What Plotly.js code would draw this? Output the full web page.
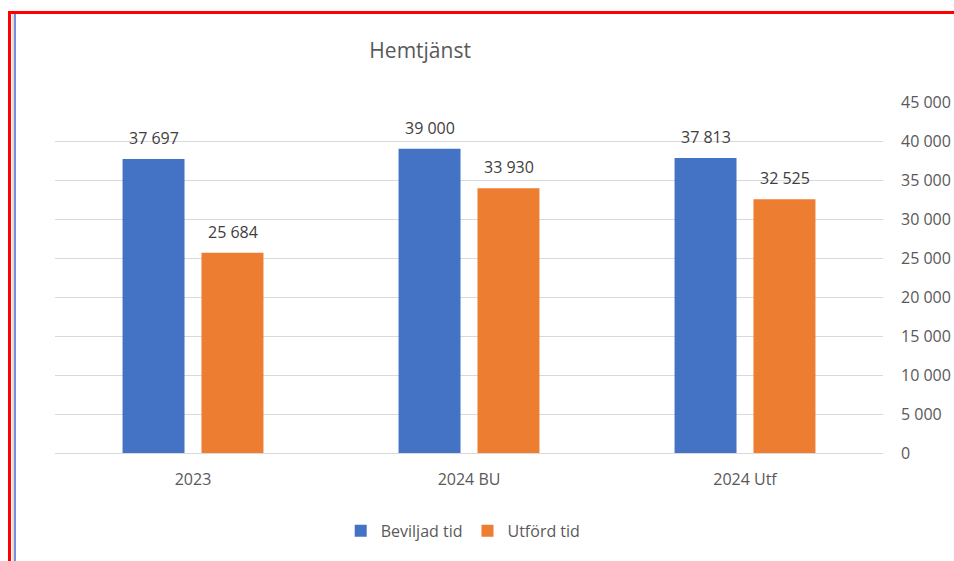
<!DOCTYPE html>
<html>
<head>
<meta charset="utf-8">
<script src="https://cdn.plot.ly/plotly-3.0.1.min.js"></script>
<style>
html,body{margin:0;padding:0;background:#fff;}
#wrap{position:relative;width:954px;height:561px;overflow:hidden;}
#chart{position:absolute;left:0;top:0;width:954px;height:561px;}
.ln{position:absolute;pointer-events:none;}
</style>
</head>
<body>
<div id="wrap">
<div id="chart"></div>
<div class="ln" style="left:8px;top:11px;width:946px;height:3px;background:#ff0000;"></div>
<div class="ln" style="left:8px;top:11px;width:3px;height:550px;background:#ff0000;"></div>
<div class="ln" style="left:12px;top:14px;width:2px;height:547px;background:#f4d8d8;"></div>
<div class="ln" style="left:14px;top:14px;width:2px;height:547px;background:#6f93d6;"></div>
</div>
<script>
const categories = ["2023", "2024 BU", "2024 Utf"];
const beviljad = [37697, 39000, 37813];
const utford = [25684, 33930, 32525];
const seriesNames = ["Beviljad tid", "Utförd tid"];
const tickVals = [0, 5000, 10000, 15000, 20000, 25000, 30000, 35000, 40000, 45000];
const tickText = ["0", "5 000", "10 000", "15 000", "20 000", "25 000", "30 000", "35 000", "40 000", "45 000"];

function fmt(v){ return String(v).replace(/\B(?=(\d{3})+(?!\d))/g, " "); }

const fam = "Open Sans, Noto Sans, sans-serif";
const font = {family: fam, color: "#595959", size: 16};
const labelFont = {family: fam, color: "#404040", size: 16};

const traces = [
  {type: "bar", name: seriesNames[0], x: categories, y: beviljad, marker: {color: "#4472C4"}, hoverinfo: "none"},
  {type: "bar", name: seriesNames[1], x: categories, y: utford, marker: {color: "#ED7D31"}, hoverinfo: "none"}
];

const annotations = [];
[[beviljad, -39.5], [utford, 39.5]].forEach(([vals, dx]) => {
  vals.forEach((v, i) => {
    annotations.push({x: i, y: v, xref: "x", yref: "y", text: fmt(v), showarrow: false,
      xshift: dx, yshift: 21, yanchor: "middle", xanchor: "center", font: labelFont});
  });
});

const layout = {
  width: 954, height: 561,
  margin: {l: 55, r: 71, t: 102, b: 108},
  paper_bgcolor: "#ffffff", plot_bgcolor: "#ffffff",
  font: font,
  title: {text: "Hemtjänst", font: {family: fam, size: 21, color: "#595959"},
          x: 0.441, xref: "paper", xanchor: "center", y: 53, yref: "container", yanchor: "middle"},
  barmode: "group", bargap: 0.428, bargroupgap: 0.215,
  xaxis: {type: "category", range: [-0.5, 2.5], autorange: false, showgrid: false, zeroline: false,
          showline: true, linecolor: "#d9d9d9", ticks: "", tickfont: font, ticklabelstandoff: 12},
  yaxis: {side: "right", range: [0, 45000], autorange: false, tickvals: tickVals, ticktext: tickText,
          showgrid: true, gridcolor: "#d9d9d9", zeroline: false, showline: false, ticks: "",
          tickfont: font, ticklabelstandoff: 17},
  legend: {orientation: "h", x: 0.493, xanchor: "center", y: -0.222, yanchor: "middle",
           font: font, traceorder: "normal"},
  annotations: annotations,
  showlegend: true
};

Plotly.newPlot("chart", traces, layout, {displayModeBar: false, staticPlot: true});
</script>
</body>
</html>
